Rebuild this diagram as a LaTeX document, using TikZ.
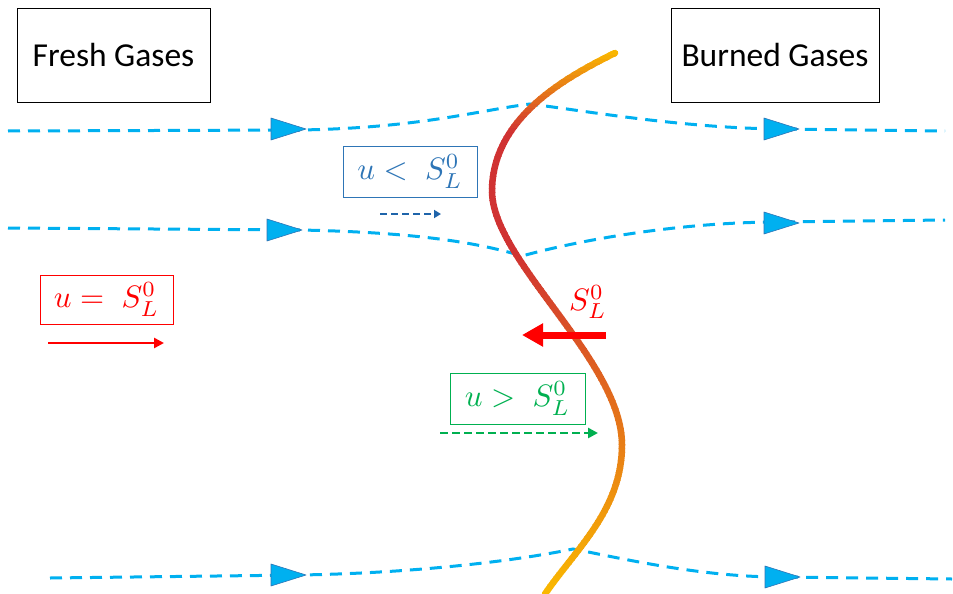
\documentclass[tikz,border=0pt]{standalone}
\usepackage{graphicx}
\usepackage{fontspec}
\setmainfont{Carlito}
\usetikzlibrary{arrows.meta}
\definecolor{stream}{RGB}{0,176,240}
\definecolor{streamedge}{RGB}{46,117,182}
\definecolor{bluetxt}{RGB}{46,117,182}
\definecolor{darkblue}{RGB}{31,100,170}
\definecolor{greentxt}{RGB}{0,176,80}
\definecolor{flameR}{RGB}{208,50,50}
\definecolor{flameY}{RGB}{250,185,0}
\newcommand{\bigmath}[1]{\scalebox{3.1}{$#1$}}
\tikzset{
  gasbox/.style={draw=black, line width=0.8pt, font=\fontsize{33.5}{40}\selectfont, inner sep=0pt},
  mathbox/.style={draw, line width=0.9pt, inner sep=0pt},
  streamline/.style={stream, line width=3pt, dash pattern=on 12pt off 8pt},
  flowtri/.style={fill=stream, draw=streamedge, line width=0.6pt, line join=round},
}
\def\flamepath{(615,53) .. controls (560,80) and (493,120) .. (492,190) .. controls (491,260) and (622,360) .. (622,445) .. controls (622,510) and (575,550) .. (545,594)}
\begin{document}
\begin{tikzpicture}[x=1pt,y=-1pt]
\useasboundingbox (0,0) rectangle (953,594);
% streamlines
\draw[streamline] (8,131) -- (300,130) .. controls (420,128) and (480,110) .. (530,104) .. controls (580,110) and (680,128) .. (780,129) -- (945,131);
\draw[streamline] (8,228) -- (300,230) .. controls (400,232) and (470,240) .. (522,256) .. controls (580,240) and (680,222) .. (780,222) -- (945,220);
\draw[streamline] (50,578) -- (300,575) .. controls (420,573) and (520,560) .. (573,549) .. controls (620,558) and (700,577) .. (780,577) -- (952,579);
% flow triangles
\foreach \x/\y in {271/129, 267/230, 764/129, 764/223, 271/575, 765/577} {
  \draw[flowtri] (\x,\y-11) -- (\x+35,\y) -- (\x,\y+11) -- cycle;
}
% flame front
\foreach \y in {48,52,...,600} {
  \pgfmathsetmacro\p{max(0,min(100,(130-\y)*1.25)) + max(0,(\y-250)/3.44)}
  \begin{scope}
    \clip (0,\y) rectangle (953,\y+4.6);
    \draw[color=flameY!\p!flameR, line width=6.5pt, line cap=round] \flamepath;
  \end{scope}
}
% gas labels
\node[gasbox, minimum width=193pt, minimum height=94pt] (fresh) at (113.5,55) {Fresh Gases};
\node[gasbox, minimum width=208pt, minimum height=94pt] (burned) at (775,55) {Burned Gases};
% velocity boxes
\node[mathbox, draw=bluetxt, text=bluetxt, minimum width=134pt, minimum height=51pt] (slow) at (410,171.5) {\bigmath{u<\;S_L^0}};
\node[mathbox, draw=red, text=red, minimum width=133pt, minimum height=49pt] (equal) at (106.5,299.5) {\bigmath{u=\;S_L^0}};
\node[mathbox, draw=greentxt, text=greentxt, minimum width=135pt, minimum height=51pt] (fast) at (517.5,398.5) {\bigmath{u>\;S_L^0}};
% velocity arrows
\coordinate (sA) at (380,214); \coordinate (sB) at (441,214);
\draw[darkblue, line width=2.8pt, dash pattern=on 7pt off 4pt, -{Triangle[length=7pt,width=8pt]}] (sA) -- (sB);
\coordinate (eA) at (48,343); \coordinate (eB) at (164,343);
\draw[red, line width=2.8pt, -{Triangle[length=10pt,width=10pt]}] (eA) -- (eB);
\coordinate (fA) at (440,433); \coordinate (fB) at (598,433);
\draw[greentxt, line width=2.8pt, dash pattern=on 8pt off 4pt, -{Triangle[length=10pt,width=10pt]}] (fA) -- (fB);
% flame speed
\node[text=red, inner sep=0pt] (SL) at (588,302) {\bigmath{S_L^0}};
\coordinate (rA) at (606,335); \coordinate (rB) at (522,335);
\draw[red, line width=7pt, -{Triangle[length=21pt,width=22pt]}] (rA) -- (rB);
\end{tikzpicture}
\end{document}
